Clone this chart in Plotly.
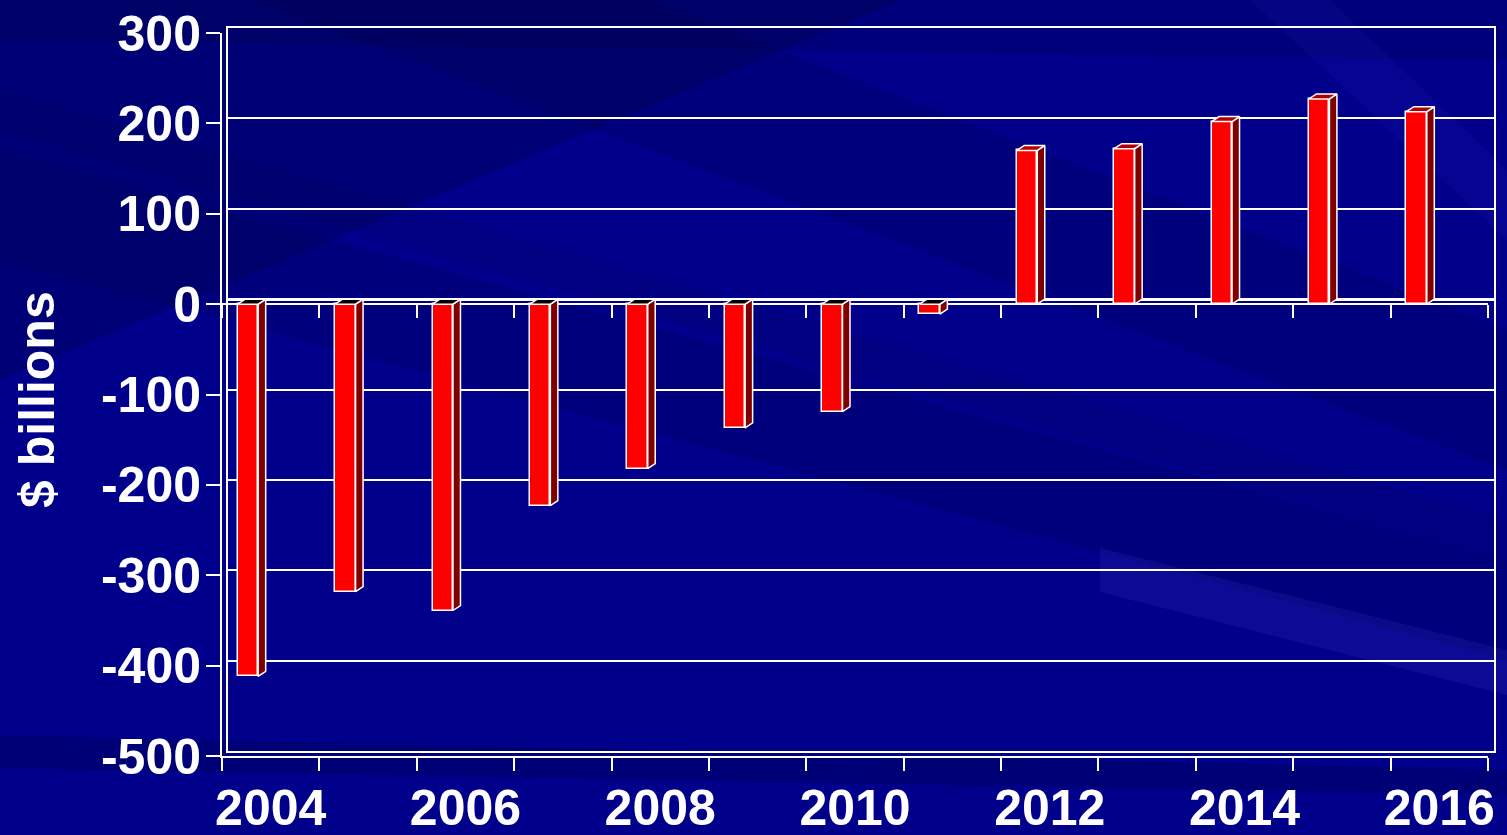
import plotly.graph_objects as go

# ---- data ($ billions) ----
years = list(range(2004, 2017))
balance = [-412, -318, -339, -223, -182, -137, -119, -11, 170, 172, 202, 227, 213]
y_ticks = [-500, -400, -300, -200, -100, 0, 100, 200, 300]
y_tick_text = ["-500", "-400", "-300", "-200", "-100", "0", "100", "200", "300"]
label_years = [2004, 2006, 2008, 2010, 2012, 2014, 2016]

# ---- canvas / frame geometry (pixels) ----
W, H = 1507, 835
BACK_X0, BACK_X1 = 228, 1494      # back wall, left/right
BACK_Y0, BACK_Y1 = 28, 751        # back wall, top (300) / bottom (-500)
DEPTH_PX_X, DEPTH_PX_Y = 6, 5     # offset of the front frame from the back wall
BAR_DEPTH_X, BAR_DEPTH_Y = 7.5, 5  # 3-D depth of a bar
Y_MIN, Y_MAX = -500, 300

FRONT_X0, FRONT_X1 = BACK_X0 - DEPTH_PX_X, BACK_X1 - DEPTH_PX_X
FRONT_Y0, FRONT_Y1 = BACK_Y0 + DEPTH_PX_Y, BACK_Y1 + DEPTH_PX_Y

n = len(years)
cat = list(range(1, n + 1))
px_per_cat = (BACK_X1 - BACK_X0) / n
px_per_unit = (BACK_Y1 - BACK_Y0) / (Y_MAX - Y_MIN)
DX = BAR_DEPTH_X / px_per_cat
DY = BAR_DEPTH_Y / px_per_unit
FACE_LEFT = -0.40   # front face left edge relative to category centre
FACE_W = 0.21

WHITE = "white"
FONT = "Liberation Sans, Arial, sans-serif"


def xdom(a, b):
    return [a / W, b / W]


def ydom(top, bottom):
    return [1 - bottom / H, 1 - top / H]


# front-face zero level in pixels
front_zero_px = FRONT_Y0 + (Y_MAX - 0) / (Y_MAX - Y_MIN) * (FRONT_Y1 - FRONT_Y0)

fig = go.Figure()

# dummy traces so the frame subplots are created
for xa in ["x", "x2", "x3"]:
    fig.add_trace(go.Scatter(x=[None], y=[None], xaxis=xa, yaxis="y",
                             showlegend=False, hoverinfo="skip"))

# ---- bars (drawn on the back-wall axes x4/y4) ----
front_centres = [c + FACE_LEFT + FACE_W / 2 for c in cat]
fig.add_trace(go.Bar(
    x=front_centres, y=balance, base=-DY, width=FACE_W,
    marker=dict(color="#ff0000", line=dict(color=WHITE, width=1.5)),
    xaxis="x4", yaxis="y4", showlegend=False, hoverinfo="skip",
))

side_x, side_y = [], []
top_pos_x, top_pos_y = [], []
top_neg_x, top_neg_y = [], []
for c, v in zip(cat, balance):
    xl = c + FACE_LEFT
    xr = xl + FACE_W
    top = max(v, 0) - DY
    bot = min(v, 0) - DY
    side_x += [xr, xr + DX, xr + DX, xr, xr, None]
    side_y += [top, top + DY, bot + DY, bot, top, None]
    tx = [xl, xl + DX, xr + DX, xr, xl, None]
    ty = [top, top + DY, top + DY, top, top, None]
    if v >= 0:
        top_pos_x += tx
        top_pos_y += ty
    else:
        top_neg_x += tx
        top_neg_y += ty

face_style = dict(mode="lines", fill="toself", line=dict(color=WHITE, width=1.5),
                  xaxis="x4", yaxis="y4", showlegend=False, hoverinfo="skip")
fig.add_trace(go.Scatter(x=side_x, y=side_y, fillcolor="#800000", **face_style))
fig.add_trace(go.Scatter(x=top_pos_x, y=top_pos_y, fillcolor="#b00000", **face_style))
fig.add_trace(go.Scatter(x=top_neg_x, y=top_neg_y, fillcolor="#000000", **face_style))

boundaries = [c - 0.5 for c in cat] + [n + 0.5]
tickfont = dict(family=FONT, size=50, color=WHITE, weight="bold")

# ---- background streaks ----
def poly(points, color):
    path = "M " + " L ".join(f"{x / W},{1 - y / H}" for x, y in points) + " Z"
    return dict(type="path", path=path, xref="paper", yref="paper",
                fillcolor=color, line=dict(width=0), layer="below")

shapes = [
    poly([(0, 0), (900, 0), (0, 380)], "rgba(0,0,50,0.22)"),
    poly([(0, 0), (1507, 0), (1507, 60), (0, 40)], "rgba(0,0,50,0.18)"),
    poly([(250, 0), (650, 0), (1507, 330), (1507, 470)], "rgba(0,0,60,0.18)"),
    poly([(0, 150), (0, 260), (1507, 660), (1507, 560)], "rgba(0,0,60,0.16)"),
    poly([(0, 90), (0, 130), (1507, 560), (1507, 520)], "rgba(0,0,60,0.12)"),
    poly([(1100, 548), (1507, 650), (1507, 695), (1100, 592)], "rgba(70,70,210,0.16)"),
    poly([(1250, 0), (1330, 0), (1507, 170), (1507, 240)], "rgba(40,40,200,0.12)"),
    poly([(0, 735), (1507, 770), (1507, 795), (0, 768)], "rgba(0,0,60,0.25)"),
]

common = dict(automargin=False, showgrid=False, zeroline=False)

fig.update_layout(
    width=W, height=H,
    margin=dict(l=0, r=0, t=0, b=0, pad=0),
    paper_bgcolor="#00008a",
    plot_bgcolor="rgba(0,0,0,0)",
    shapes=shapes,
    bargap=0,
    # front frame: left axis with value labels, floor with category ticks
    xaxis=dict(domain=xdom(FRONT_X0, FRONT_X1), range=[0.5, n + 0.5], anchor="y",
               showline=True, linecolor=WHITE, linewidth=2,
               ticks="outside", ticklen=13, tickwidth=2, tickcolor=WHITE,
               tickmode="array", tickvals=boundaries, showticklabels=False, **common),
    yaxis=dict(domain=ydom(FRONT_Y0, FRONT_Y1), range=[Y_MIN, Y_MAX], anchor="x",
               showline=True, linecolor=WHITE, linewidth=2,
               ticks="outside", ticklen=14, tickwidth=2, tickcolor=WHITE,
               tickmode="array", tickvals=y_ticks, ticktext=y_tick_text,
               tickfont=tickfont, ticklabelstandoff=-5, **common),
    # year labels under the floor
    xaxis2=dict(domain=xdom(FRONT_X0, FRONT_X1), range=[0.5, n + 0.5], anchor="y",
                showline=False, ticks="",
                tickmode="array", tickvals=[c for c, yr in zip(cat, years) if yr in label_years],
                ticktext=[str(y) for y in label_years], tickfont=tickfont,
                ticklabelstandoff=18, **common),
    # category axis crossing at zero
    xaxis3=dict(domain=xdom(FRONT_X0, FRONT_X1), range=[0.5, n + 0.5], anchor="free",
                position=1 - front_zero_px / H,
                showline=True, linecolor=WHITE, linewidth=2,
                ticks="outside", ticklen=13, tickwidth=2, tickcolor=WHITE,
                tickmode="array", tickvals=boundaries, showticklabels=False, **common),
    # back wall with gridlines; bars live here
    xaxis4=dict(domain=xdom(BACK_X0, BACK_X1), range=[0.5, n + 0.5], anchor="y4",
                automargin=False, showgrid=False, zeroline=False,
                showline=True, mirror=True,
                linecolor=WHITE, linewidth=2, ticks="", showticklabels=False),
    yaxis4=dict(domain=ydom(BACK_Y0, BACK_Y1), range=[Y_MIN, Y_MAX], anchor="x4",
                automargin=False, showgrid=True, gridcolor=WHITE, gridwidth=2,
                zeroline=True, zerolinecolor=WHITE, zerolinewidth=3,
                showline=True, mirror=True, linecolor=WHITE, linewidth=2,
                tickmode="array", tickvals=y_ticks, ticks="", showticklabels=False),
    annotations=[dict(text="$ billions", textangle=-90, x=37 / W, y=1 - 400 / H,
                      xref="paper", yref="paper", showarrow=False,
                      xanchor="center", yanchor="middle",
                      font=dict(family=FONT, size=50, color=WHITE, weight="bold"))],
)

fig.write_html("out.html")
